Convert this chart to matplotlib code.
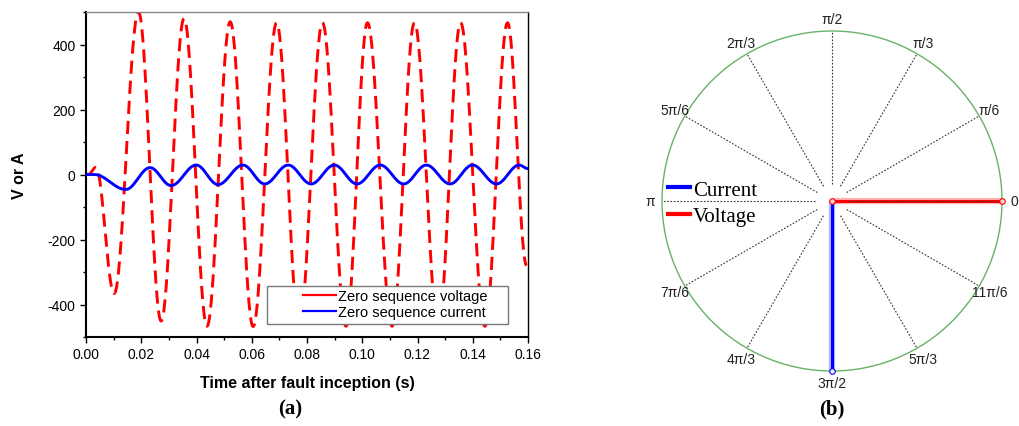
import numpy as np
import matplotlib
matplotlib.use('Agg')
from matplotlib import pyplot as plt
from matplotlib.lines import Line2D
from matplotlib.patches import Rectangle, Circle
from matplotlib.ticker import MultipleLocator

# ---- panel (a): extrema of the waveforms ----
volt_t = [0.0, 0.0008, 0.0036, 0.0102, 0.0190, 0.0272, 0.0355, 0.0438, 0.0522, 0.0605, 0.0690,
          0.0772, 0.0856, 0.0941, 0.1019, 0.1108, 0.1189, 0.1275, 0.1356, 0.1444, 0.1526, 0.1595]
volt_v = [0, 0, 22, -366, 500, -451, 480, -467, 470, -468, 467,
          -467, 467, -467, 467, -467, 467, -467, 467, -467, 467, -280]
curr_t = [0.0, 0.003, 0.0144, 0.0232, 0.0308, 0.0399, 0.0478, 0.0568, 0.0647, 0.0732, 0.0815,
          0.0899, 0.0981, 0.1065, 0.1150, 0.1232, 0.1318, 0.1399, 0.1486, 0.1568, 0.1600]
curr_v = [0, 0, -46, 21, -34, 29, -31, 29, -29, 29, -29,
          29, -29, 29, -29, 29, -29, 29, -29, 29, 18]
series_names = ['Zero sequence voltage', 'Zero sequence current']

# ---- panel (b): phasor diagram ----
spoke_deg = [0, 30, 60, 90, 120, 150, 180, 210, 240, 270, 300, 330]
spoke_labels = ['0', 'π/6', 'π/3', 'π/2', '2π/3', '5π/6', 'π', '7π/6', '4π/3', '3π/2', '5π/3', '11π/6']
phasor_names = ['Current', 'Voltage']
phasor_deg = [270, 0]
phasor_mag = [1.0, 1.0]


def smooth(ts, vs, n=40):
    # half-cosine shape between consecutive extrema
    tt, vv = [], []
    for t0, t1, v0, v1 in zip(ts[:-1], ts[1:], vs[:-1], vs[1:]):
        s = np.linspace(0, 1, n)
        tt.append(t0 + (t1 - t0)*s); vv.append(v0 + (v1 - v0)*(1 - np.cos(np.pi*s))/2)
    return np.concatenate(tt), np.concatenate(vv)


W, H = 1019, 427
plt.rcParams['font.family'] = ['Liberation Sans', 'DejaVu Sans']
plt.rcParams['axes.unicode_minus'] = False
fig = plt.figure(figsize=(W/100, H/100), dpi=100)

ax = fig.add_axes([86/W, 1 - 338/H, 442/W, 325/H])
tv, vv = smooth(volt_t, volt_v)
tc, vc = smooth(curr_t, curr_v)
ax.plot(tv, vv, color='red', lw=2.1, linestyle=(0, (4.5, 2.4)), zorder=2)
ax.plot(tc, vc, color='blue', lw=2.1, zorder=3)
ax.set_xlim(0, 0.16); ax.set_ylim(-500, 500)
ax.xaxis.set_major_locator(MultipleLocator(0.02)); ax.xaxis.set_minor_locator(MultipleLocator(0.01))
ax.yaxis.set_major_locator(MultipleLocator(200)); ax.yaxis.set_minor_locator(MultipleLocator(100))
ax.xaxis.set_major_formatter(matplotlib.ticker.FormatStrFormatter('%.2f'))
ax.tick_params(which='major', direction='out', length=4, width=1, labelsize=10, colors='black')
ax.tick_params(which='minor', direction='out', length=2.5, width=1)
ax.spines['left'].set_linewidth(1.5); ax.spines['bottom'].set_linewidth(1.5)
ax.spines['top'].set_color('#888888'); ax.spines['top'].set_linewidth(1)
ax.spines['right'].set_linewidth(1)
ax.set_xlabel('Time after fault inception (s)', fontsize=11.5, fontweight='bold', labelpad=10)
ax.set_ylabel('V or A', fontsize=11.5, fontweight='bold', labelpad=15)

# legend box
ax.add_patch(Rectangle(((267 - 86)/442, (338 - 325)/325), 241/442, 38/325, transform=ax.transAxes,
                       facecolor='white', edgecolor='#777777', lw=1, zorder=5))
hs = [Line2D([], [], color='red', lw=1.6), Line2D([], [], color='blue', lw=1.6)]
leg = ax.legend(hs, series_names, loc='lower right', bbox_to_anchor=((490 - 86)/442, (338 - 323)/325),
                frameon=False, fontsize=10.5, handlelength=2.3, handletextpad=0.1, labelspacing=0.15,
                borderpad=0.2, borderaxespad=0)
leg.set_zorder(6)
fig.text(290/W, 1 - 409/H, '(a)', ha='center', va='center', fontsize=15, fontweight='bold',
         family='Liberation Serif')

# ---- panel (b) ----
R = 170
ax2 = fig.add_axes([(832 - 190)/W, 1 - (202 + 190)/H, 380/W, 380/H])
ax2.set_xlim(-190/R, 190/R); ax2.set_ylim(-190/R, 190/R); ax2.axis('off')
ax2.add_patch(Circle((0, 0), 1.0, fill=False, edgecolor='#66b366', lw=1))
for d, lab in zip(spoke_deg, spoke_labels):
    a = np.radians(d)
    ax2.plot([0.1*np.cos(a), np.cos(a)], [0.1*np.sin(a), np.sin(a)], color='#333333', lw=0.8,
             linestyle=(0, (1.5, 1.5)), zorder=3 if d == 0 else 1)
    ax2.text(1.07*np.cos(a), 1.07*np.sin(a), lab, ha='center', va='center', fontsize=10,
             color='#222222', clip_on=False)
cols = {'Current': 'blue', 'Voltage': 'red'}
for nm, d, m in zip(phasor_names, phasor_deg, phasor_mag):
    a = np.radians(d)
    x, y = [0, m*np.cos(a)], [0, m*np.sin(a)]
    z = 4 if nm == 'Current' else 2
    ax2.plot(x, y, color=cols[nm], lw=4.5, alpha=0.3, solid_capstyle='butt', zorder=z)
    ax2.plot(x, y, color=cols[nm], lw=2.2, solid_capstyle='butt', zorder=z)
    mx, my = (x[1:], y[1:]) if nm == 'Current' else (x, y)
    ax2.plot(mx, my, linestyle='none', marker='o', ms=4, mfc='#f0f0ff' if nm == 'Current' else '#ffd0d0',
             mec=cols[nm], mew=0.8, zorder=6)
hs2 = [Line2D([], [], color=cols[n], lw=3) for n in phasor_names]
ax2.legend(hs2, phasor_names, loc='upper left', bbox_to_anchor=((668 - 642)/380, 1 - (181 - 12)/380),
           frameon=False, prop={'family': 'Liberation Serif', 'size': 15}, handlelength=1.05,
           handletextpad=0.15, labelspacing=0.35, borderpad=0, borderaxespad=0)
fig.text(832/W, 1 - 409/H, '(b)', ha='center', va='center', fontsize=15, fontweight='bold',
         family='Liberation Serif')

fig.savefig('out.png', dpi=100)
plt.close()
